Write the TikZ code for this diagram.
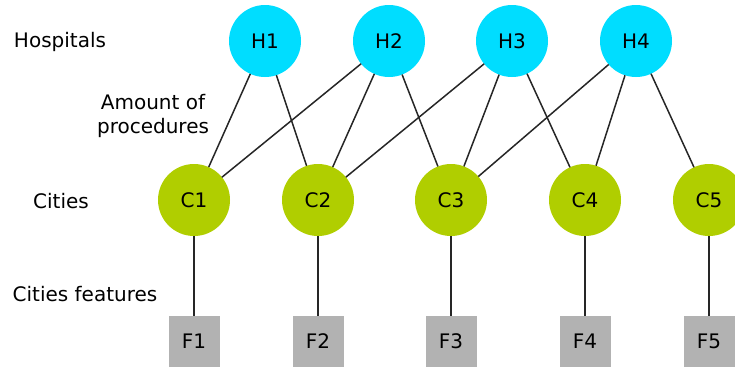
\documentclass[tikz,border=0pt]{standalone}
\usepackage{fontspec}
\setmainfont{DejaVu Sans}
\usetikzlibrary{positioning}
\definecolor{hospcyan}{RGB}{0,221,255}
\definecolor{citygreen}{RGB}{176,206,0}
\definecolor{featgray}{RGB}{178,178,178}
\tikzset{
   hosp/.style={circle, fill=hospcyan, minimum size=72pt, inner sep=0pt, outer sep=0pt},
   city/.style={circle, fill=citygreen, minimum size=72pt, inner sep=0pt, outer sep=0pt},
   feat/.style={rectangle, fill=featgray, minimum size=51pt, inner sep=0pt, outer sep=0pt},
   link/.style={line width=1.5pt, black!85}
}
\begin{document}
\begin{tikzpicture}[x=1pt, y=1pt,
      every node/.style={font=\fontsize{20}{24}\selectfont}]
         \useasboundingbox (0,0) rectangle (735,-367);

         % hospitals
         \node[hosp]                    (h1) at (265,-41) {H1};
         \node[hosp, right=52pt of h1]  (h2) {H2};
         \node[hosp, right=51pt of h2]  (h3) {H3};
         \node[hosp, right=52pt of h3]  (h4) {H4};

         % cities
         \node[city]                    (c1) at (194,-200) {C1};
         \node[city, right=52pt of c1]  (c2) {C2};
         \node[city, right=61pt of c2]  (c3) {C3};
         \node[city, right=62pt of c3]  (c4) {C4};
         \node[city, right=52pt of c4]  (c5) {C5};

         % cities features
         \node[feat, below=80pt of c1]  (f1) {F1};
         \node[feat, below=80pt of c2]  (f2) {F2};
         \node[feat, below=80pt of c3]  (f3) {F3};
         \node[feat, below=80pt of c4]  (f4) {F4};
         \node[feat, below=80pt of c5]  (f5) {F5};

         % row labels
         \node (lblhosp)   at (60,-42)  {Hospitals};
         \node[align=center] (lblamount) at (153,-116) {Amount of\\procedures};
         \node (lblcities) at (61,-201) {Cities};
         \node (lblfeat)   at (85,-294) {Cities features};

         % amount of procedures
         \draw[link] (h1) -- (c1);
         \draw[link] (h1) -- (c2);
         \draw[link] (h2) -- (c1);
         \draw[link] (h2) -- (c2);
         \draw[link] (h2) -- (c3);
         \draw[link] (h3) -- (c2);
         \draw[link] (h3) -- (c3);
         \draw[link] (h3) -- (c4);
         \draw[link] (h4) -- (c3);
         \draw[link] (h4) -- (c4);
         \draw[link] (h4) -- (c5);

         % city to features
         \draw[link] (c1) -- (f1);
         \draw[link] (c2) -- (f2);
         \draw[link] (c3) -- (f3);
         \draw[link] (c4) -- (f4);
         \draw[link] (c5) -- (f5);
\end{tikzpicture}
\end{document}
